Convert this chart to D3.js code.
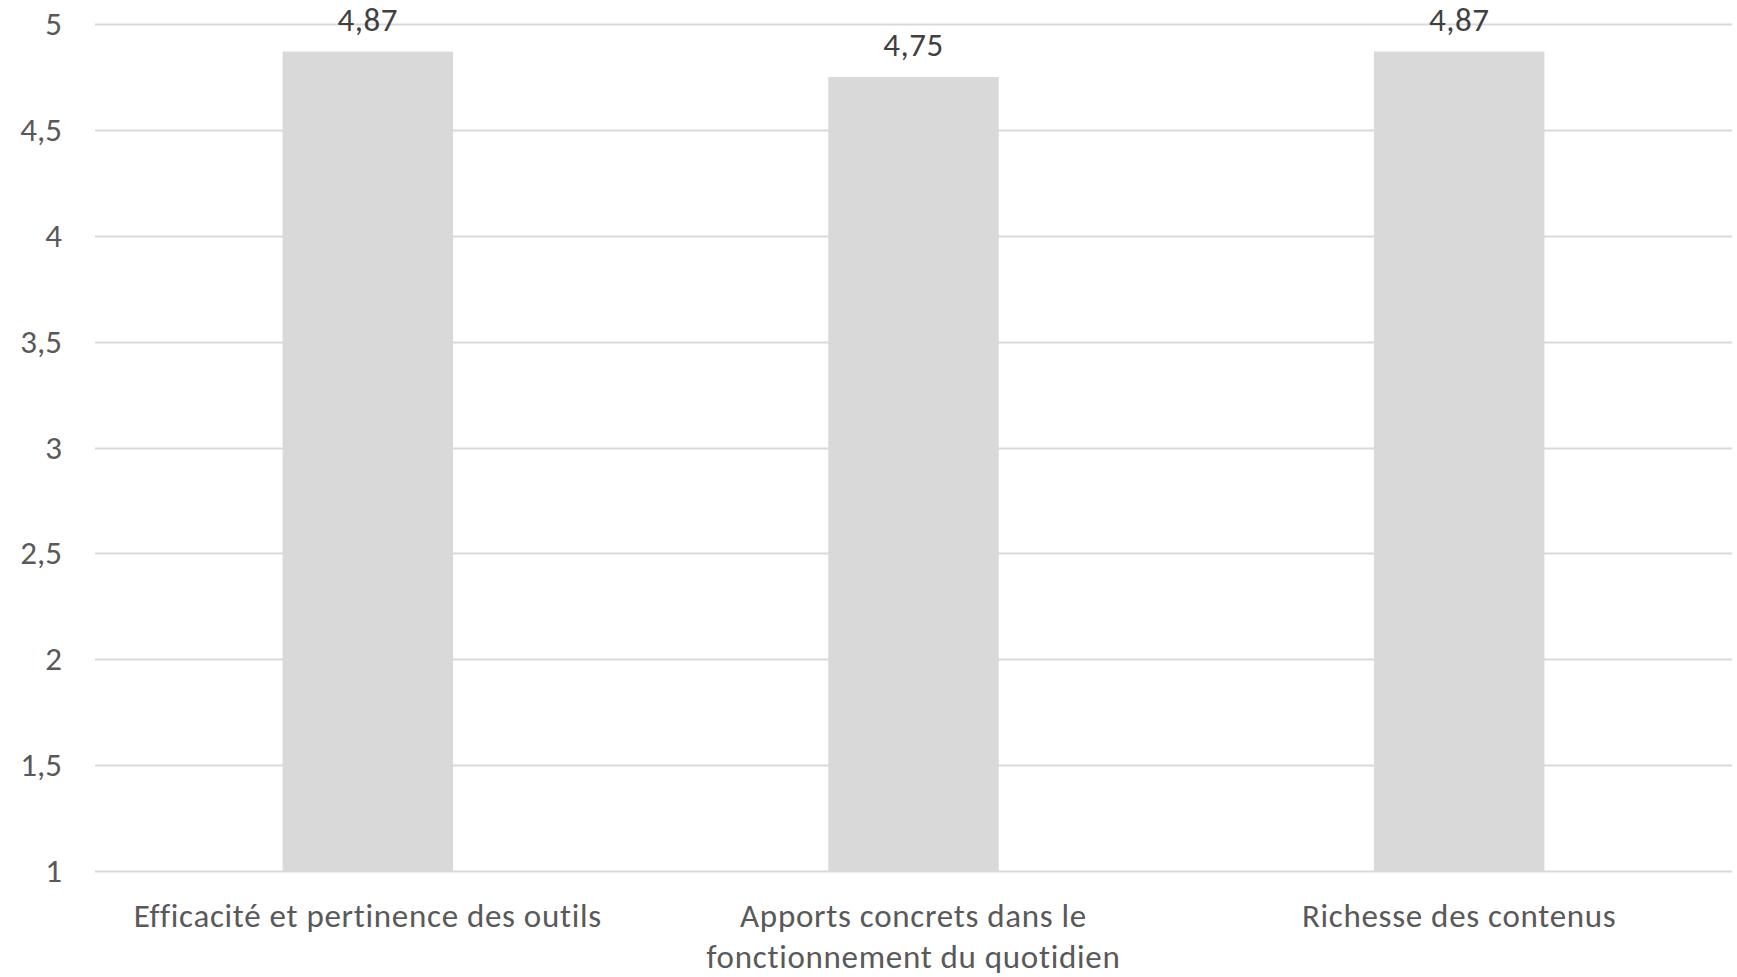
<!DOCTYPE html>
<html>
<head>
<meta charset="utf-8">
<script src="https://cdn.jsdelivr.net/npm/d3@7"></script>
<style>
  body { margin: 0; background: #fff; }
</style>
</head>
<body>
<div id="chart"></div>
<script>
// Data
const categories = [
  ["Efficacité et pertinence des outils"],
  ["Apports concrets dans le", "fonctionnement du quotidien"],
  ["Richesse des contenus"]
];
const values = [4.87, 4.75, 4.87];
const yTicks = [1, 1.5, 2, 2.5, 3, 3.5, 4, 4.5, 5];

// Dimensions
const width = 1737;
const height = 977;
const margin = { top: 24, right: 5, bottom: 106, left: 95 };
const innerW = width - margin.left - margin.right;
const innerH = height - margin.top - margin.bottom;
const font = "Calibri, Carlito, Lato, sans-serif";

const svg = d3
  .select("#chart")
  .append("svg")
  .attr("width", width)
  .attr("height", height)
  .attr("font-family", font);

const g = svg
  .append("g")
  .attr("transform", `translate(${margin.left}, ${margin.top})`);

const fmt = (d) => String(d).replace(".", ",");

// Scales
const xScale = d3
  .scaleBand()
  .domain(d3.range(categories.length))
  .range([0, innerW])
  .paddingInner(0.6875)
  .paddingOuter(0.34375);

const yScale = d3.scaleLinear().domain([1, 5]).range([innerH, 0]);

// Gridlines
g.append("g")
  .selectAll("line")
  .data(yTicks)
  .enter()
  .append("line")
  .attr("x1", 0)
  .attr("x2", innerW)
  .attr("y1", (d) => Math.round(yScale(d)) + 0.5)
  .attr("y2", (d) => Math.round(yScale(d)) + 0.5)
  .style("stroke", "#d9d9d9")
  .style("stroke-width", 2);

// Y axis labels
const yAxis = d3.axisLeft(yScale).tickValues(yTicks).tickFormat(fmt).tickSize(0).tickPadding(33);
g.append("g")
  .attr("id", "y-axis")
  .call(yAxis)
  .attr("font-family", font)
  .attr("font-size", 33)
  .call((s) => s.select(".domain").remove())
  .selectAll("text")
  .style("fill", "#595959");

// Bars
g.selectAll(".bar")
  .data(values)
  .enter()
  .append("rect")
  .attr("class", "bar")
  .attr("x", (d, i) => xScale(i))
  .attr("y", (d) => yScale(d))
  .attr("width", xScale.bandwidth())
  .attr("height", (d) => innerH - yScale(d))
  .style("fill", "#d9d9d9");

// Data labels
g.selectAll(".label")
  .data(values)
  .enter()
  .append("text")
  .attr("class", "label")
  .attr("x", (d, i) => xScale(i) + xScale.bandwidth() / 2)
  .attr("y", (d) => yScale(d) - 21)
  .attr("text-anchor", "middle")
  .attr("font-size", 33)
  .attr("letter-spacing", 0.5)
  .style("fill", "#404040")
  .text(fmt);

// X axis labels
const xAxis = d3.axisBottom(xScale).tickSize(0).tickFormat("");
const xg = g.append("g")
  .attr("id", "x-axis")
  .attr("transform", `translate(0, ${innerH})`)
  .call(xAxis)
  .attr("font-family", font)
  .attr("font-size", 33);
xg.select(".domain").remove();
xg.selectAll(".tick")
  .append("text")
  .attr("text-anchor", "middle")
  .attr("letter-spacing", 0.7)
  .style("fill", "#595959")
  .selectAll("tspan")
  .data((d) => categories[d])
  .enter()
  .append("tspan")
  .attr("x", 0)
  .attr("y", (d, i) => 56 + i * 41)
  .text((d) => d);
</script>
</body>
</html>
